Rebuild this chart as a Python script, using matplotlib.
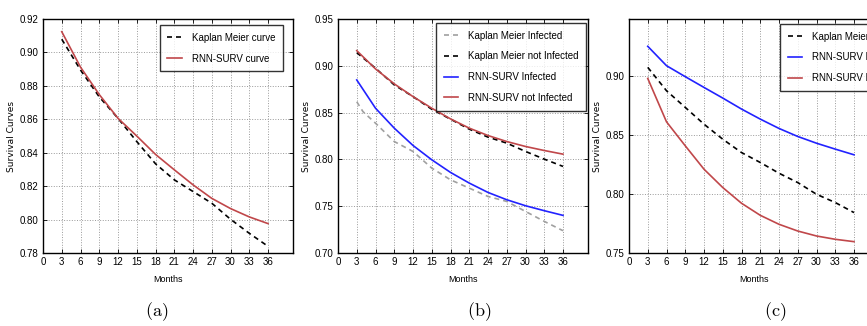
import matplotlib
matplotlib.use("Agg")
import matplotlib.pyplot as plt

plt.rcParams['mathtext.fontset'] = 'cm'
NARROW = ['Liberation Sans Narrow', 'Liberation Sans', 'DejaVu Sans']

months = [3, 6, 9, 12, 15, 18, 21, 24, 27, 30, 33, 36]
xticks = list(range(0, 37, 3))

# Panel (a)
km_a = [0.9079, 0.8895, 0.8734, 0.8606, 0.8467, 0.8334, 0.8238, 0.8168, 0.8098, 0.8002, 0.7918, 0.7840]
rnn_a = [0.9124, 0.8912, 0.8748, 0.8606, 0.8500, 0.8390, 0.8298, 0.8208, 0.8127, 0.8066, 0.8016, 0.7976]

# Panel (b)
km_inf_months = [3, 4, 6, 9, 12, 15, 18, 21, 24, 27, 30, 33, 36]
km_inf = [0.8616, 0.8510, 0.8387, 0.8191, 0.8085, 0.7907, 0.7782, 0.7693, 0.7604, 0.7551, 0.7444, 0.7338, 0.7238]
km_notinf = [0.9141, 0.8974, 0.8796, 0.8671, 0.8536, 0.8430, 0.8323, 0.8238, 0.8174, 0.8085, 0.8003, 0.7925]
rnn_inf = [0.8849, 0.8547, 0.8334, 0.8149, 0.7996, 0.7861, 0.7747, 0.7647, 0.7569, 0.7505, 0.7452, 0.7402]
rnn_notinf = [0.9162, 0.8967, 0.8807, 0.8671, 0.8547, 0.8433, 0.8334, 0.8255, 0.8191, 0.8138, 0.8095, 0.8056]

# Panel (c)
km_c = [0.9071, 0.8873, 0.8732, 0.8590, 0.8463, 0.8350, 0.8266, 0.8175, 0.8096, 0.7997, 0.7927, 0.7842]
rnn_p1 = [0.9249, 0.9085, 0.8992, 0.8901, 0.8811, 0.8718, 0.8633, 0.8554, 0.8486, 0.8429, 0.8379, 0.8331]
rnn_p2 = [0.8977, 0.8610, 0.8407, 0.8209, 0.8054, 0.7921, 0.7819, 0.7743, 0.7686, 0.7644, 0.7616, 0.7596]

RED = '#c0474a'
BLUE = '#2222ff'
GRAY = '#a0a0a0'
DASH = (0, (3.0, 2.4))

fig = plt.figure(figsize=(8.67, 3.26), dpi=100)
W, H = 867, 326

def make_ax(left_px):
    ax = fig.add_axes([left_px / W, (H - 253) / H, 250 / W, 234 / H])
    ax.set_xlim(0, 40)
    ax.set_xticks(xticks)
    ax.grid(True, linestyle=':', color='#999999', linewidth=0.7)
    ax.tick_params(direction='in', length=3, width=0.6, labelsize=7, pad=3,
                   top=True, right=True)
    for s in ax.spines.values():
        s.set_linewidth(1.0)
    ax.set_xlabel('Months', family=NARROW, fontsize=6.5, labelpad=6)
    ax.set_ylabel('Survival Curves', family='DejaVu Sans', fontsize=6.5, labelpad=3)
    return ax

def finish_ticks(ax):
    for lab in ax.get_xticklabels() + ax.get_yticklabels():
        lab.set_family(NARROW)

def style_legend(ax, loc_kw):
    leg = ax.legend(prop={'family': NARROW, 'size': 7.0}, frameon=True, fancybox=False,
                    edgecolor='black', handlelength=1.5, labelspacing=1.1,
                    borderpad=0.8, handletextpad=1.0, borderaxespad=0.0, **loc_kw)
    leg.get_frame().set_linewidth(1.0)
    return leg

# (a)
ax1 = make_ax(43)
ax1.plot(months, km_a, color='black', linestyle=DASH, linewidth=1.2, label='Kaplan Meier curve')
ax1.plot(months, rnn_a, color=RED, linewidth=1.2, label='RNN-SURV curve')
ax1.set_ylim(0.78, 0.92)
ax1.set_yticks([0.78, 0.80, 0.82, 0.84, 0.86, 0.88, 0.90, 0.92])
ax1.set_yticklabels(['0.78', '0.80', '0.82', '0.84', '0.86', '0.88', '0.90', '0.92'])
finish_ticks(ax1)
style_legend(ax1, dict(loc='upper right', bbox_to_anchor=(0.96, 0.974)))

# (b)
ax2 = make_ax(338)
ax2.plot(km_inf_months, km_inf, color=GRAY, linestyle=DASH, linewidth=1.2, label='Kaplan Meier Infected')
ax2.plot(months, km_notinf, color='black', linestyle=DASH, linewidth=1.2, label='Kaplan Meier not Infected')
ax2.plot(months, rnn_inf, color=BLUE, linewidth=1.2, label='RNN-SURV Infected')
ax2.plot(months, rnn_notinf, color=RED, linewidth=1.2, label='RNN-SURV not Infected')
ax2.set_ylim(0.70, 0.95)
ax2.set_yticks([0.70, 0.75, 0.80, 0.85, 0.90, 0.95])
ax2.set_yticklabels(['0.70', '0.75', '0.80', '0.85', '0.90', '0.95'])
finish_ticks(ax2)
style_legend(ax2, dict(loc='upper left', bbox_to_anchor=(0.392, 0.983)))

# (c)
ax3 = make_ax(629)
ax3.plot(months, km_c, color='black', linestyle=DASH, linewidth=1.2, label='Kaplan Meier curve')
ax3.plot(months, rnn_p1, color=BLUE, linewidth=1.2, label='RNN-SURV P1')
ax3.plot(months, rnn_p2, color=RED, linewidth=1.2, label='RNN-SURV P2')
ax3.set_ylim(0.75, 0.948)
ax3.set_yticks([0.75, 0.80, 0.85, 0.90])
ax3.set_yticklabels(['0.75', '0.80', '0.85', '0.90'])
finish_ticks(ax3)
style_legend(ax3, dict(loc='upper left', bbox_to_anchor=(0.604, 0.979)))

for lbl, xp in [('(a)', 157), ('(b)', 479), ('(c)', 775)]:
    fig.text(xp / W, (H - 312) / H, r'$\mathrm{' + lbl + '}$', ha='center', va='center', fontsize=13)

fig.savefig('out.png', dpi=100)
